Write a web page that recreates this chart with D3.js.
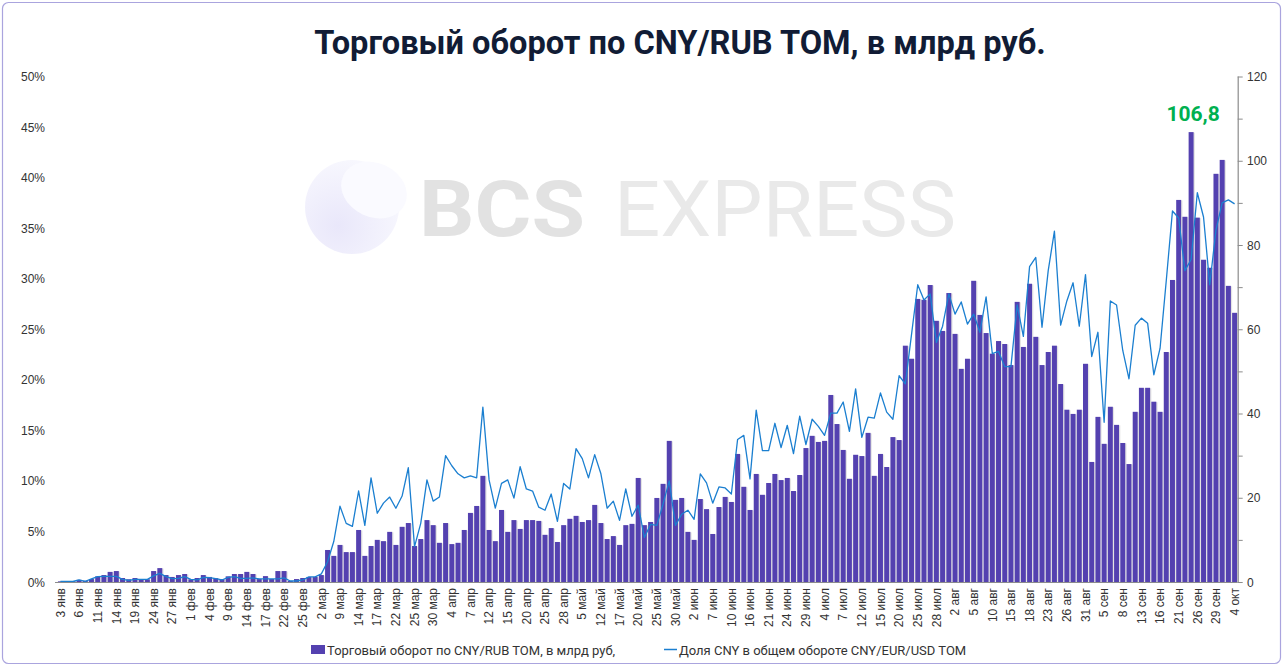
<!DOCTYPE html>
<html>
<head>
<meta charset="utf-8">
<script src="https://cdn.jsdelivr.net/npm/d3@7"></script>
<style>
  html, body { margin: 0; padding: 0; background: #ffffff; }
  svg { display: block; }
</style>
</head>
<body>
<svg id="chart" width="1283" height="666"></svg>
<script>
const dates = [
  "3 янв","4 янв","5 янв","6 янв","7 янв","10 янв","11 янв","12 янв","13 янв","14 янв",
  "17 янв","18 янв","19 янв","20 янв","21 янв","24 янв","25 янв","26 янв","27 янв","28 янв",
  "31 янв","1 фев","2 фев","3 фев","4 фев","7 фев","8 фев","9 фев","10 фев","11 фев",
  "14 фев","15 фев","16 фев","17 фев","18 фев","21 фев","22 фев","23 фев","24 фев","25 фев",
  "28 фев","1 мар","2 мар","3 мар","4 мар","9 мар","10 мар","11 мар","14 мар","15 мар",
  "16 мар","17 мар","18 мар","21 мар","22 мар","23 мар","24 мар","25 мар","28 мар","29 мар",
  "30 мар","31 мар","1 апр","4 апр","5 апр","6 апр","7 апр","8 апр","11 апр","12 апр",
  "13 апр","14 апр","15 апр","18 апр","19 апр","20 апр","21 апр","22 апр","25 апр","26 апр",
  "27 апр","28 апр","29 апр","4 май","5 май","6 май","11 май","12 май","13 май","16 май",
  "17 май","18 май","19 май","20 май","23 май","24 май","25 май","26 май","27 май","30 май",
  "31 май","1 июн","2 июн","3 июн","6 июн","7 июн","8 июн","9 июн","10 июн","14 июн",
  "15 июн","16 июн","17 июн","20 июн","21 июн","22 июн","23 июн","24 июн","27 июн","28 июн",
  "29 июн","30 июн","1 июл","4 июл","5 июл","6 июл","7 июл","8 июл","11 июл","12 июл",
  "13 июл","14 июл","15 июл","18 июл","19 июл","20 июл","21 июл","22 июл","25 июл","26 июл",
  "27 июл","28 июл","29 июл","1 авг","2 авг","3 авг","4 авг","5 авг","8 авг","9 авг",
  "10 авг","11 авг","12 авг","15 авг","16 авг","17 авг","18 авг","19 авг","22 авг","23 авг",
  "24 авг","25 авг","26 авг","29 авг","30 авг","31 авг","1 сен","2 сен","5 сен","6 сен",
  "7 сен","8 сен","9 сен","12 сен","13 сен","14 сен","15 сен","16 сен","19 сен","20 сен",
  "21 сен","22 сен","23 сен","26 сен","27 сен","28 сен","29 сен","30 сен","3 окт","4 окт"
];

// Торговый оборот по CNY/RUB TOM, млрд руб.
const turnover = [
  0.15,0.15,0.2,0.5,0.3,0.7,1.35,1.65,2.4,2.6,
  0.95,0.65,0.95,0.65,0.65,2.6,3.3,1.65,1.2,1.65,
  1.9,0.65,0.95,1.65,1.2,0.9,0.65,1.35,1.9,1.9,
  2.4,1.9,0.7,1.4,0.7,2.6,2.6,0.25,0.7,0.95,
  1.2,1.2,1.65,7.6,6.2,8.8,7.1,7.1,12.35,6.2,
  8.55,10.0,9.7,11.9,8.8,13.1,14.0,8.55,10.2,14.7,
  13.5,9.3,14.0,9.0,9.3,12.35,16.4,18.05,25.2,12.35,
  9.7,17.1,11.9,14.7,12.6,14.7,14.7,14.5,11.2,12.8,
  9.5,13.5,15.0,15.7,14.25,14.7,18.3,14.0,10.2,10.9,
  8.8,13.5,13.8,24.7,13.5,14.25,19.95,23.3,33.5,19.5,
  19.95,11.9,10.0,19.7,17.3,11.4,17.8,20.2,19.0,30.4,
  22.6,17.1,25.65,20.7,23.5,25.65,24.2,24.7,21.6,25.4,
  31.8,34.7,33.25,33.5,44.4,37.5,31.35,24.5,30.2,29.9,
  35.4,25.2,30.4,27.3,34.4,33.7,56.1,53.0,67.2,67.0,
  70.5,62.0,59.6,68.6,58.9,50.6,53.0,71.5,63.4,59.1,
  54.2,57.2,56.5,51.5,66.5,55.8,70.8,58.2,51.5,54.6,
  56.1,47.0,40.9,39.9,40.9,51.8,28.5,39.2,32.8,41.6,
  37.3,33.0,28.0,40.4,46.1,46.1,42.8,40.4,54.6,71.7,
  90.7,86.7,106.8,86.5,76.5,74.6,96.9,100.2,70.3,63.9
];

// Доля CNY в общем обороте CNY/EUR/USD TOM, %
const cnyShare = [
  0.05,0.05,0.05,0.2,0.07,0.3,0.53,0.56,0.56,0.56,
  0.26,0.16,0.26,0.26,0.26,0.6,0.86,0.53,0.33,0.36,
  0.53,0.26,0.2,0.46,0.43,0.33,0.2,0.46,0.53,0.36,
  0.36,0.4,0.3,0.3,0.3,0.3,0.4,0.1,0.1,0.2,
  0.5,0.5,0.8,2.0,4.0,7.5,5.8,5.5,9.0,5.6,
  10.3,6.8,7.8,8.4,7.3,8.5,11.3,3.5,5.8,10.1,
  8.0,8.4,12.5,11.5,10.7,10.3,10.5,10.3,17.3,10.1,
  7.3,9.75,10.1,8.3,11.4,9.2,9.0,7.4,7.1,8.7,
  6.0,9.75,9.2,13.2,12.2,10.3,12.6,10.7,7.3,8.0,
  6.1,9.2,6.5,7.6,4.4,5.7,5.6,7.7,10.0,5.6,
  6.7,7.1,6.2,10.7,9.8,7.8,9.4,9.3,8.7,14.1,
  14.5,10.2,17.0,13.0,13.0,15.7,13.3,15.5,12.7,16.4,
  13.6,16.1,15.4,14.5,16.7,16.7,17.8,14.9,19.1,14.3,
  16.3,16.2,18.7,16.8,16.1,20.4,19.6,24.5,29.4,27.9,
  28.5,23.7,25.3,28.5,26.5,27.7,25.5,26.5,24.7,28.2,
  22.6,22.8,21.3,21.3,27.4,24.3,31.2,32.1,25.2,30.8,
  34.7,25.4,27.8,29.6,25.3,30.4,22.3,24.7,15.8,27.8,
  27.4,22.9,20.1,25.4,26.1,25.6,20.5,23.1,29.8,36.7,
  36.0,30.8,31.9,38.5,36.1,29.4,34.8,37.5,37.8,37.4
];

const leftTicks = [0, 5, 10, 15, 20, 25, 30, 35, 40, 45, 50];
const rightTicks = [0, 20, 40, 60, 80, 100, 120];
const rightMinorTicks = [0, 10, 20, 30, 40, 50, 60, 70, 80, 90, 100, 110, 120];
const peakLabel = "106,8";
const titleText = "Торговый оборот по CNY/RUB TOM, в млрд руб.";
const legendBar = "Торговый оборот по CNY/RUB TOM, в млрд руб,";
const legendLine = "Доля CNY в общем обороте CNY/EUR/USD TOM";

const svg = d3.select("#chart");
const W = 1283, H = 666;
const m = { left: 57.3, right: 1237.7, top: 76.5, bottom: 582 };

const barColor = "#5441b0";
const lineColor = "#1b7fd0";
const textColor = "#333333";

// Border
svg.append("rect")
  .attr("x", 2.5).attr("y", 2.5).attr("width", W - 5).attr("height", H - 5)
  .attr("rx", 6).attr("fill", "#ffffff").attr("stroke", "#aaa4de").attr("stroke-width", 1.2);

// Watermark
const defs = svg.append("defs");
const grad = defs.append("radialGradient").attr("id", "logoGrad")
  .attr("cx", "35%").attr("cy", "70%").attr("r", "75%");
grad.append("stop").attr("offset", "0%").attr("stop-color", "#e9e7fa");
grad.append("stop").attr("offset", "100%").attr("stop-color", "#f8f8fe");
const wm = svg.append("g");
wm.append("circle").attr("cx", 352).attr("cy", 207).attr("r", 47).attr("fill", "url(#logoGrad)");
wm.append("ellipse").attr("cx", 374).attr("cy", 190).attr("rx", 34).attr("ry", 27)
  .attr("transform", "rotate(25 374 190)").attr("fill", "#fafaff");
wm.append("text").attr("x", 419).attr("y", 236)
  .attr("font-family", "Roboto, 'Liberation Sans', sans-serif").attr("font-weight", 700)
  .attr("font-size", 78).attr("fill", "#e2e2e2")
  .attr("textLength", 166).attr("lengthAdjust", "spacingAndGlyphs").text("BCS");
wm.append("text").attr("x", 614).attr("y", 236)
  .attr("font-family", "Roboto, 'Liberation Sans', sans-serif").attr("font-weight", 400)
  .attr("font-size", 78).attr("fill", "#e9e9e9")
  .attr("textLength", 342).attr("lengthAdjust", "spacingAndGlyphs").text("EXPRESS");

// Title
svg.append("text").attr("x", 680).attr("y", 54).attr("text-anchor", "middle")
  .attr("font-family", "Roboto, 'Liberation Sans', sans-serif").attr("font-weight", 700)
  .attr("font-size", 32.6).attr("fill", "#111c35").text(titleText);

// Scales
const x = d3.scaleBand().domain(d3.range(dates.length))
  .range([m.left, m.right]).paddingInner(0.2).paddingOuter(0.1);
const yR = d3.scaleLinear().domain([0, 120]).range([m.bottom, m.top]);
const yL = d3.scaleLinear().domain([0, 50]).range([m.bottom, m.top]);

// Bar shadows
svg.append("g").selectAll("rect").data(turnover).join("rect")
  .attr("x", (d, i) => x(i) + 1.3)
  .attr("y", d => yR(d) + 0.5)
  .attr("width", x.bandwidth())
  .attr("height", d => m.bottom - yR(d) - 0.5)
  .attr("fill", "#e4e4e4");

// Bars
svg.append("g").selectAll("rect").data(turnover).join("rect")
  .attr("x", (d, i) => x(i))
  .attr("y", d => yR(d))
  .attr("width", x.bandwidth())
  .attr("height", d => m.bottom - yR(d))
  .attr("fill", barColor);

// Line
const line = d3.line()
  .x((d, i) => x(i) + x.bandwidth() / 2)
  .y(d => yL(d));
svg.append("path").datum(cnyShare)
  .attr("d", line).attr("fill", "none")
  .attr("stroke", lineColor).attr("stroke-width", 1.3).attr("stroke-linejoin", "round");

// X axis baseline
svg.append("line").attr("x1", 55).attr("x2", m.right)
  .attr("y1", m.bottom + 0.5).attr("y2", m.bottom + 0.5)
  .attr("stroke", "#8c8c8c").attr("stroke-width", 1.2);

// X labels
const xLab = svg.append("g").attr("font-family", "'Liberation Sans', Arial, sans-serif")
  .attr("font-size", 12).attr("fill", textColor);
dates.forEach((d, i) => {
  if (i % 3 !== 0) return;
  const cx = x(i) + x.bandwidth() / 2;
  xLab.append("text")
    .attr("transform", `translate(${cx + 4.2},${m.bottom + 6}) rotate(-90)`)
    .attr("text-anchor", "end").text(d);
});

// Left axis labels
const lAx = svg.append("g").attr("font-family", "'Liberation Sans', Arial, sans-serif")
  .attr("font-size", 12).attr("fill", textColor);
leftTicks.forEach(t => {
  lAx.append("text").attr("x", 45).attr("y", yL(t) + 4.5)
    .attr("text-anchor", "end").text(t + "%");
});

// Right axis
svg.append("line").attr("x1", m.right + 0.5).attr("x2", m.right + 0.5)
  .attr("y1", m.top).attr("y2", m.bottom)
  .attr("stroke", "#8c8c8c").attr("stroke-width", 1.2);
rightMinorTicks.forEach(t => {
  svg.append("line").attr("x1", m.right).attr("x2", m.right + 5)
    .attr("y1", yR(t) + 0.5).attr("y2", yR(t) + 0.5)
    .attr("stroke", "#8c8c8c").attr("stroke-width", 1);
});
const rAx = svg.append("g").attr("font-family", "'Liberation Sans', Arial, sans-serif")
  .attr("font-size", 12).attr("fill", textColor);
rightTicks.forEach(t => {
  rAx.append("text").attr("x", 1247).attr("y", yR(t) + 4.5).text(t);
});

// Peak annotation
const peakIdx = turnover.indexOf(d3.max(turnover));
svg.append("text").attr("x", x(peakIdx) + x.bandwidth() / 2 + 2).attr("y", yR(turnover[peakIdx]) - 11)
  .attr("text-anchor", "middle")
  .attr("font-family", "Roboto, 'Liberation Sans', sans-serif").attr("font-weight", 700)
  .attr("font-size", 21).attr("fill", "#00b050").text(peakLabel);

// Legend
const lg = svg.append("g").attr("font-family", "Roboto, 'Liberation Sans', sans-serif")
  .attr("font-size", 13).attr("fill", textColor);
lg.append("rect").attr("x", 311).attr("y", 645).attr("width", 14).attr("height", 9).attr("fill", barColor);
lg.append("text").attr("x", 327).attr("y", 654.5).text(legendBar);
lg.append("line").attr("x1", 664).attr("x2", 677).attr("y1", 649.5).attr("y2", 649.5)
  .attr("stroke", lineColor).attr("stroke-width", 1.5);
lg.append("text").attr("x", 679).attr("y", 654.5).text(legendLine);
</script>
</body>
</html>
